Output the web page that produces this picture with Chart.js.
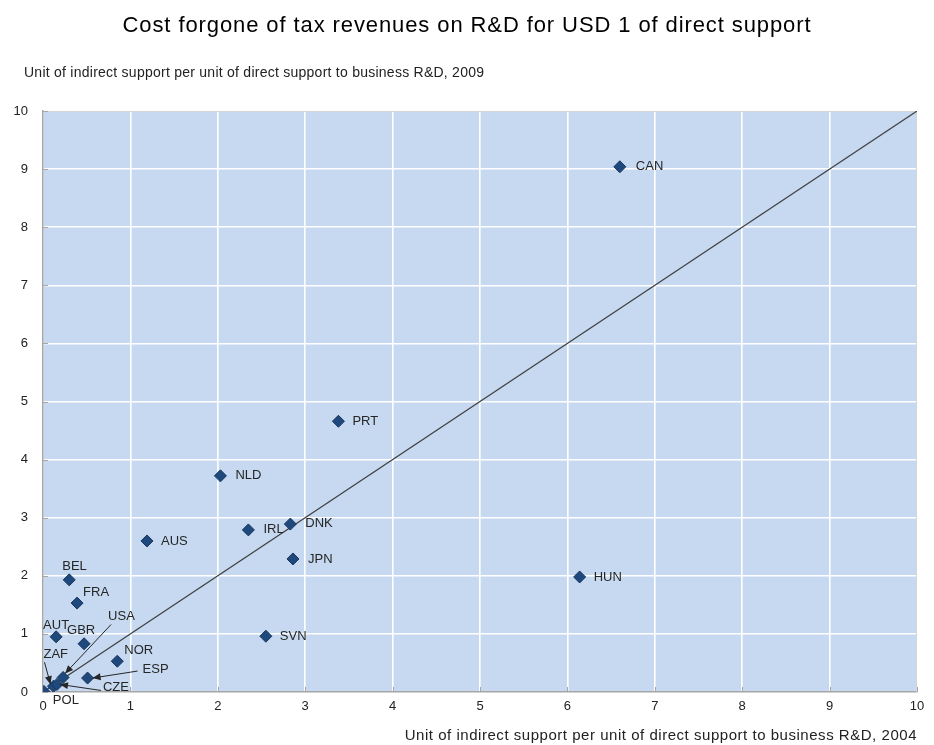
<!DOCTYPE html>
<html>
<head>
<meta charset="utf-8">
<script src="https://cdn.jsdelivr.net/npm/chart.js@4.4.1/dist/chart.umd.min.js"></script>
<style>
html,body{margin:0;padding:0;background:#fff;}
#wrap{width:934px;height:745px;position:relative;}
</style>
</head>
<body>
<div id="wrap"><canvas id="c" width="934" height="745"></canvas></div>
<script>
// ---- data ----
const countries = ['CAN','PRT','NLD','IRL','DNK','JPN','AUS','HUN','SVN','BEL','FRA','AUT','GBR','NOR','USA','ZAF','ESP','CZE','POL'];
const support2004 = [6.60, 3.38, 2.03, 2.35, 2.83, 2.86, 1.19, 6.14, 2.55, 0.30, 0.39, 0.15, 0.47, 0.85, 0.23, 0.12, 0.51, 0.16, 0.01];
const support2009 = [9.04, 4.66, 3.72, 2.79, 2.89, 2.29, 2.60, 1.98, 0.96, 1.93, 1.53, 0.95, 0.83, 0.53, 0.25, 0.10, 0.24, 0.13, 0.01];
const tickValues = [0,1,2,3,4,5,6,7,8,9,10];
const diagonal = [0, 10];

const titleText = 'Cost forgone of tax revenues on R&D for USD 1 of direct support';
const yTitleText = 'Unit of indirect support per unit of direct support to business R&D, 2009';
const xTitleText = 'Unit of indirect support per unit of direct support to business R&D, 2004';

// label placement (pixel offsets from marker); arrow = start/end offsets
const labelPlacement = {
  CAN:{dx:16,dy:0}, PRT:{dx:14,dy:0}, NLD:{dx:15,dy:0}, IRL:{dx:15,dy:0},
  DNK:{dx:15,dy:-1}, JPN:{dx:15,dy:0}, AUS:{dx:14,dy:0}, HUN:{dx:14,dy:0},
  SVN:{dx:14,dy:0}, BEL:{dx:-7,dy:-13}, FRA:{dx:6,dy:-11}, AUT:{dx:-13,dy:-11},
  GBR:{dx:-17,dy:-13}, NOR:{dx:7,dy:-11},
  USA:{dx:45,dy:-61, arrow:{sx:48,sy:-53,ex:2,ey:-4}},
  ZAF:{dx:-10,dy:-32, arrow:{sx:-9,sy:-24,ex:-3,ey:-2}},
  ESP:{dx:55,dy:-9, arrow:{sx:50,sy:-7,ex:5,ey:0}},
  CZE:{dx:46,dy:3, arrow:{sx:44,sy:6,ex:3,ey:0}},
  POL:{dx:9,dy:9}
};

const points = countries.map((c,i)=>({x:support2004[i], y:support2009[i], label:c}));

const fontFamily = '"Liberation Sans", Arial, sans-serif';

function arrow(ctx, x1, y1, x2, y2){
  ctx.beginPath();
  ctx.moveTo(x1,y1);
  ctx.lineTo(x2,y2);
  ctx.stroke();
  const a = Math.atan2(y2-y1, x2-x1);
  const L = 8, W = 3.5;
  ctx.beginPath();
  ctx.moveTo(x2,y2);
  ctx.lineTo(x2 - L*Math.cos(a) + W*Math.sin(a), y2 - L*Math.sin(a) - W*Math.cos(a));
  ctx.lineTo(x2 - L*Math.cos(a) - W*Math.sin(a), y2 - L*Math.sin(a) + W*Math.cos(a));
  ctx.closePath();
  ctx.fill();
}

// draw text spread to a target width (letter spacing)
function spacedText(ctx, text, x, y, targetWidth, align){
  ctx.letterSpacing = '0px';
  const w0 = ctx.measureText(text).width;
  const sp = Math.max(0, (targetWidth - w0) / text.length);
  ctx.letterSpacing = sp.toFixed(2) + 'px';
  let w = ctx.measureText(text).width;
  ctx.textAlign = 'left';
  let sx = x;
  if(align === 'center') sx = x - w/2;
  else if(align === 'right') sx = x - w;
  ctx.fillText(text, sx, y);
  ctx.letterSpacing = '0px';
}

const decor = {
  id:'decor',
  beforeDraw(chart){
    const {ctx, chartArea:a} = chart;
    ctx.save();
    ctx.fillStyle = '#c6d9f0';
    ctx.fillRect(a.left, a.top, a.right-a.left, a.bottom-a.top);
    ctx.restore();
  },
  beforeDatasetsDraw(chart){
    const {ctx, chartArea:a, scales} = chart;
    ctx.save();
    ctx.strokeStyle = '#d4d4d4';
    ctx.lineWidth = 1;
    ctx.beginPath();
    ctx.moveTo(a.left, a.top+0.5); ctx.lineTo(a.right-0.5, a.top+0.5); ctx.lineTo(a.right-0.5, a.bottom);
    ctx.stroke();
    ctx.strokeStyle = '#a6a6a6';
    tickValues.forEach(v=>{
      const y = Math.round(scales.y.getPixelForValue(v))+0.5;
      ctx.beginPath(); ctx.moveTo(a.left, y); ctx.lineTo(a.left+5, y); ctx.stroke();
      const x = Math.round(scales.x.getPixelForValue(v))+0.5;
      ctx.beginPath(); ctx.moveTo(x, a.bottom); ctx.lineTo(x, a.bottom-5); ctx.stroke();
    });
    ctx.restore();
  },
  afterDatasetsDraw(chart){
    const {ctx, scales} = chart;
    ctx.save();
    ctx.font = '13px ' + fontFamily;
    ctx.textBaseline = 'middle';
    ctx.textAlign = 'left';
    ctx.strokeStyle = '#262626';
    ctx.fillStyle = '#262626';
    ctx.lineWidth = 1;
    points.forEach(p=>{
      const px = scales.x.getPixelForValue(p.x);
      const py = scales.y.getPixelForValue(p.y);
      const pl = labelPlacement[p.label];
      if(pl.arrow){
        arrow(ctx, px+pl.arrow.sx, py+pl.arrow.sy, px+pl.arrow.ex, py+pl.arrow.ey);
      }
      ctx.fillText(p.label, px+pl.dx, py+pl.dy);
    });
    ctx.restore();
  },
  afterDraw(chart){
    const {ctx, chartArea:a} = chart;
    ctx.save();
    ctx.fillStyle = '#000';
    ctx.textBaseline = 'middle';
    ctx.font = '22px ' + fontFamily;
    spacedText(ctx, titleText, 467, 26, 689, 'center');
    ctx.fillStyle = '#222';
    ctx.font = '14px ' + fontFamily;
    spacedText(ctx, yTitleText, 24, 73, 460, 'left');
    ctx.font = '15px ' + fontFamily;
    spacedText(ctx, xTitleText, a.right, 736, 512, 'right');
    ctx.restore();
  }
};

new Chart(document.getElementById('c'), {
  type:'scatter',
  data:{
    datasets:[
      {
        data: points,
        pointStyle:'rectRot',
        pointRadius:6,
        pointHoverRadius:6,
        backgroundColor:'#1f497d',
        borderColor:'#16365c',
        borderWidth:1
      },
      {
        type:'line',
        data: diagonal.map(v=>({x:v,y:v})),
        borderColor:'#404040',
        borderWidth:1.2,
        pointRadius:0,
        fill:false
      }
    ]
  },
  options:{
    responsive:false,
    animation:false,
    events:[],
    layout:{padding:{top:111,right:17,left:0,bottom:0}},
    plugins:{legend:{display:false}, tooltip:{enabled:false}, title:{display:false}},
    scales:{
      x:{
        type:'linear', min:0, max:10,
        afterFit(s){ s.height = 53; },
        ticks:{stepSize:1, color:'#222', font:{size:13, family:fontFamily}, padding:7, maxRotation:0},
        grid:{color:'#ffffff', lineWidth:1.6, drawTicks:false},
        border:{display:true, color:'#a6a6a6', width:1.5}
      },
      y:{
        type:'linear', min:0, max:10,
        afterFit(s){ s.width = 43; },
        ticks:{stepSize:1, color:'#222', font:{size:13, family:fontFamily}, padding:15},
        grid:{color:'#ffffff', lineWidth:1.6, drawTicks:false},
        border:{display:true, color:'#a6a6a6', width:1.5}
      }
    }
  },
  plugins:[decor]
});
</script>
</body>
</html>
